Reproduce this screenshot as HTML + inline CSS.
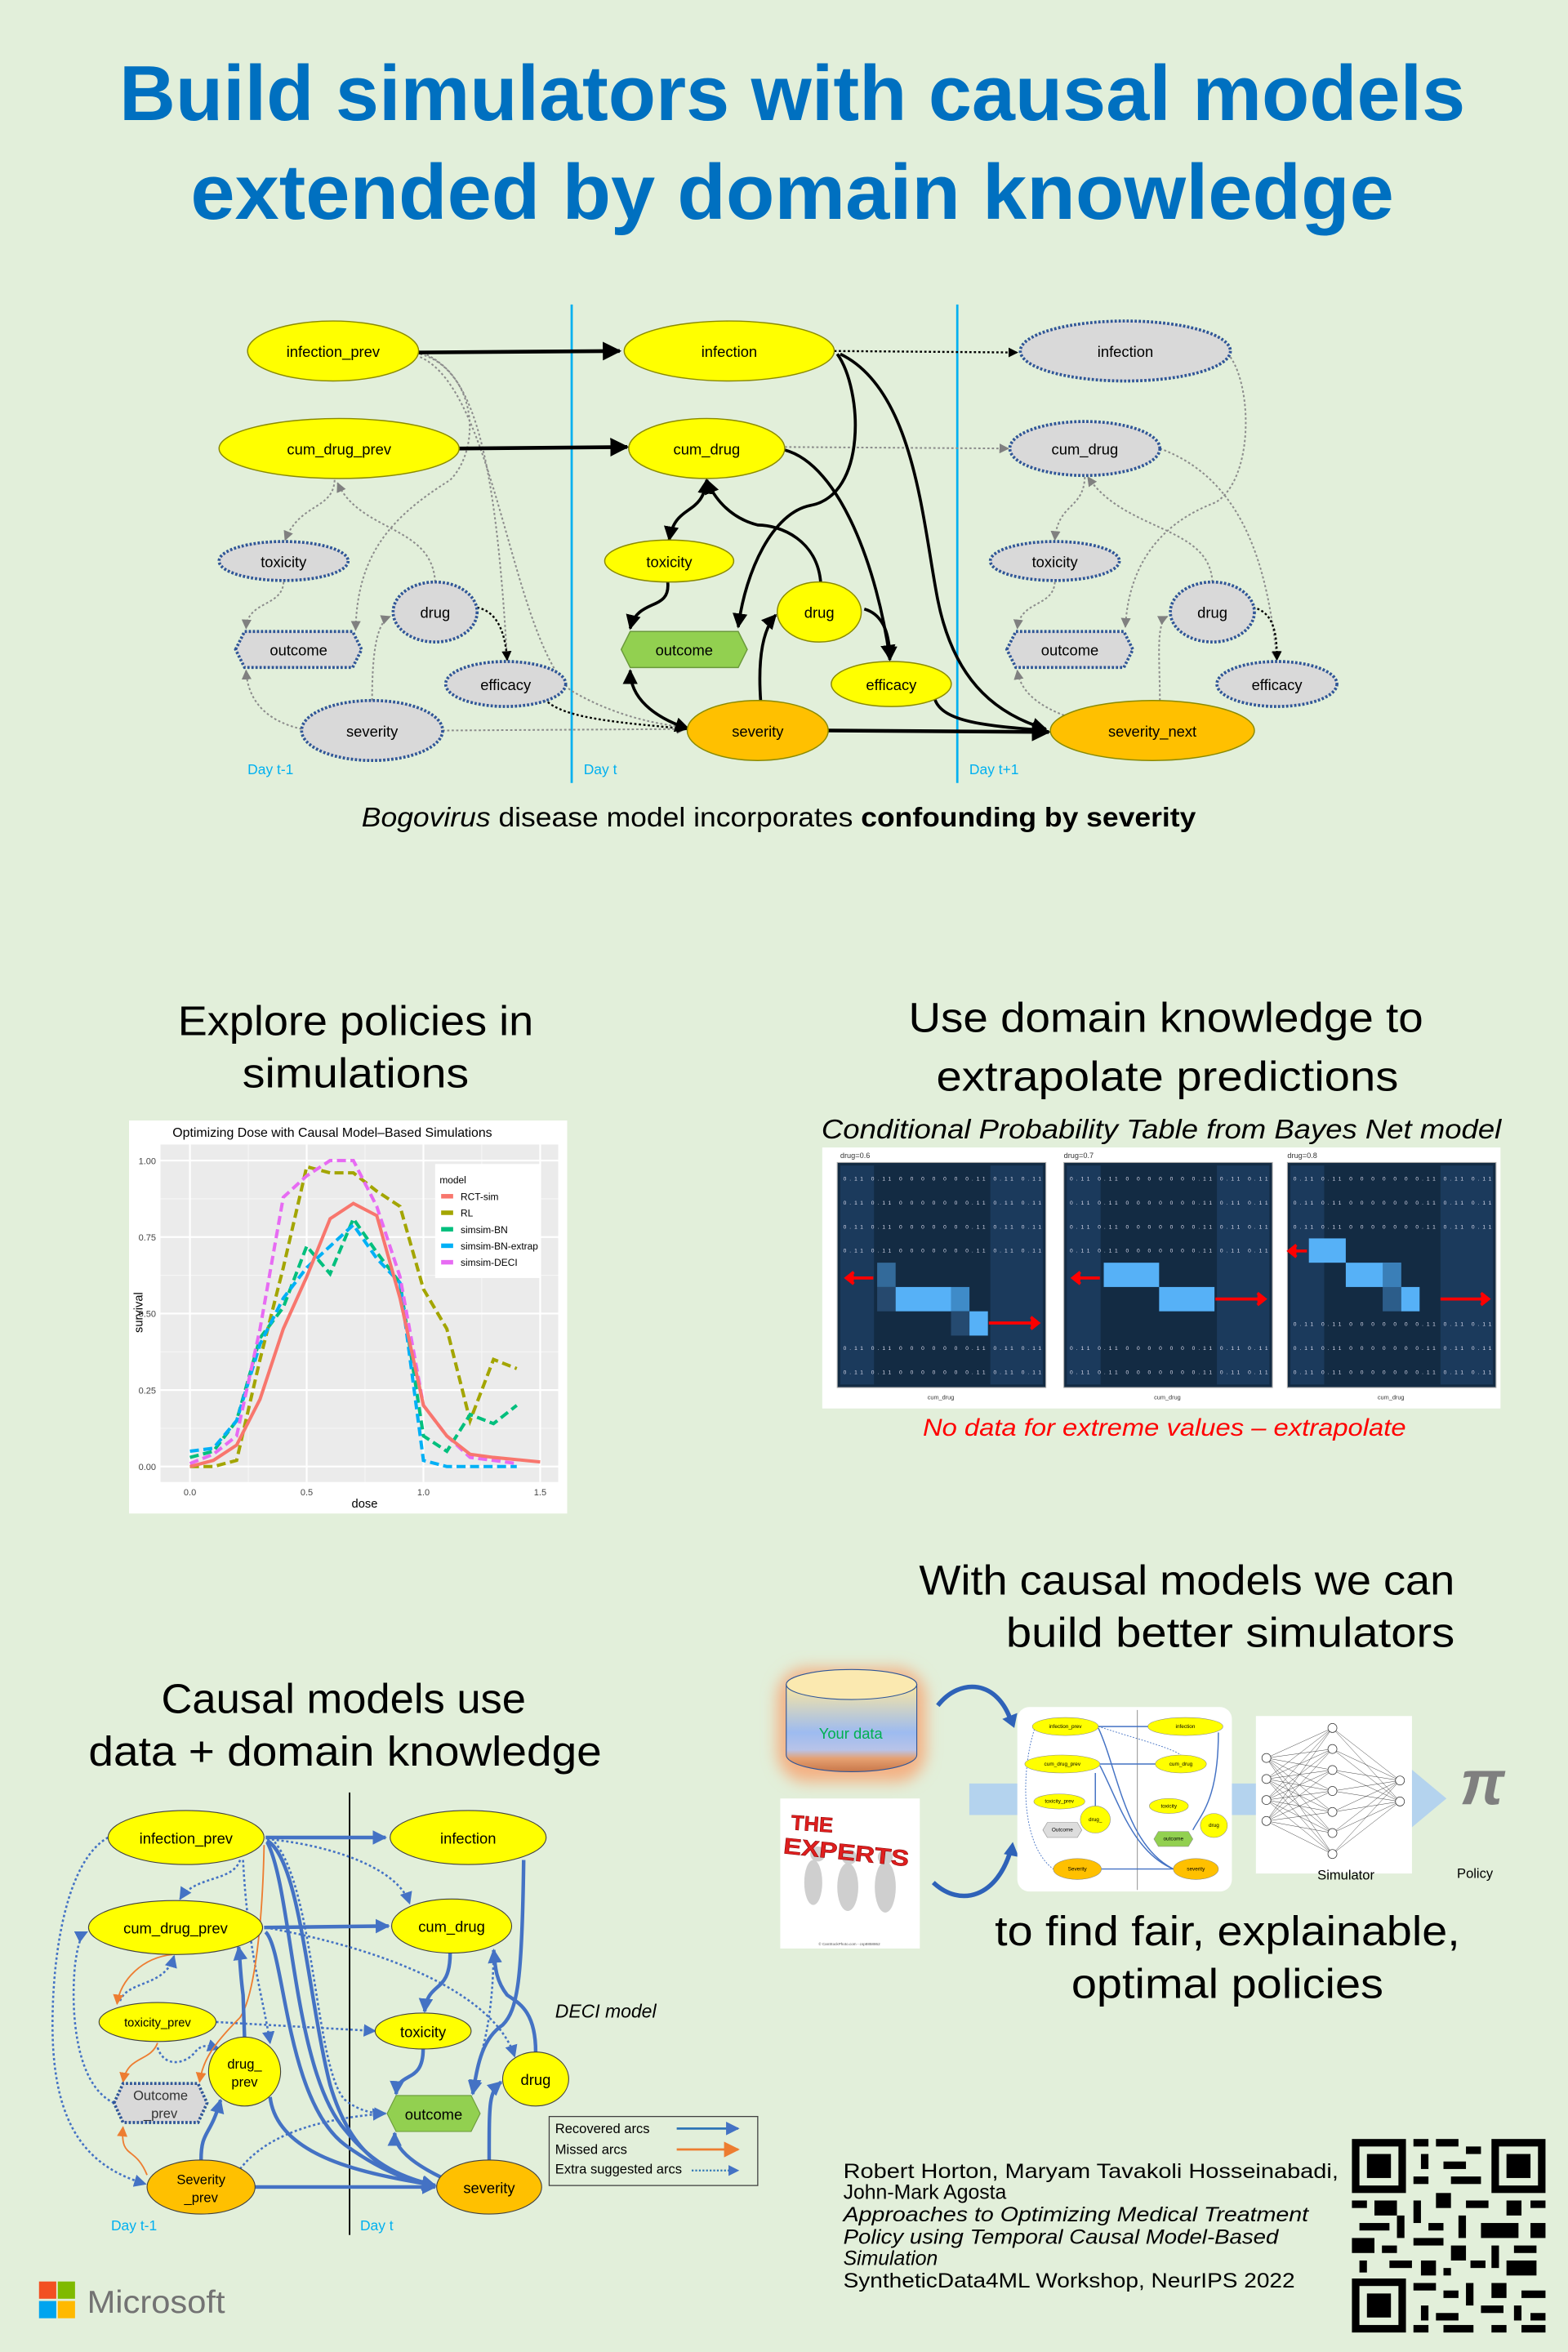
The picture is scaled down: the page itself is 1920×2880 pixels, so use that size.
<!DOCTYPE html>
<html><head><meta charset="utf-8"><style>
html,body{margin:0;padding:0;background:#e2efda;}
svg{display:block}
text{font-family:"Liberation Sans",sans-serif;}
</style></head><body>
<svg width="1920" height="2880" viewBox="0 0 1045 1568" preserveAspectRatio="none" xmlns="http://www.w3.org/2000/svg">
<defs>
<marker id="mk" viewBox="0 0 10 10" refX="9" refY="5" markerWidth="5" markerHeight="5" orient="auto-start-reverse"><path d="M0,0L10,5L0,10z" fill="#000"/></marker>
<marker id="mg" viewBox="0 0 10 10" refX="9" refY="5" markerWidth="6" markerHeight="6" orient="auto"><path d="M0,0L10,5L0,10z" fill="#808080"/></marker>
<marker id="mb" viewBox="0 0 10 10" refX="9" refY="5" markerWidth="4" markerHeight="4" orient="auto-start-reverse"><path d="M0,0L10,5L0,10z" fill="#4472c4"/></marker>
<marker id="mbd" viewBox="0 0 10 10" refX="9" refY="5" markerWidth="6" markerHeight="6" orient="auto"><path d="M0,0L10,5L0,10z" fill="#4472c4"/></marker>
<marker id="mo" viewBox="0 0 10 10" refX="9" refY="5" markerWidth="7" markerHeight="7" orient="auto"><path d="M0,0L10,5L0,10z" fill="#ed7d31"/></marker>
<linearGradient id="cyl" x1="0" y1="0" x2="0" y2="1"><stop offset="0" stop-color="#fbe7a0"/><stop offset="0.55" stop-color="#9dbbf0"/><stop offset="0.75" stop-color="#b8c3e8"/><stop offset="0.85" stop-color="#e6a070"/><stop offset="1" stop-color="#c8774a"/></linearGradient>
<filter id="glow" x="-30%" y="-30%" width="160%" height="160%"><feGaussianBlur stdDeviation="5"/></filter>
</defs>
<rect width="1045" height="1568" fill="#e2efda"/>

<!-- Title -->
<text x="528" y="80" text-anchor="middle" font-size="52" font-weight="bold" fill="#0070c0" textLength="897" lengthAdjust="spacingAndGlyphs">Build simulators with causal models</text>
<text x="528" y="146" text-anchor="middle" font-size="52" font-weight="bold" fill="#0070c0" textLength="802" lengthAdjust="spacingAndGlyphs">extended by domain knowledge</text>

<!-- Diagram 1 -->
<line x1="381" y1="203" x2="381" y2="522" stroke="#00b0f0" stroke-width="1.5"/>
<line x1="638" y1="203" x2="638" y2="522" stroke="#00b0f0" stroke-width="1.5"/>
<g font-size="9.5" fill="#00b0f0"><text x="165" y="516">Day t-1</text><text x="389" y="516">Day t</text><text x="646" y="516">Day t+1</text></g>

<g fill="none" stroke="#8c8c8c" stroke-width="1.1" stroke-dasharray="1.5 1.5" marker-end="url(#mg)">
<path d="M279,234 C320,250 320,300 300,320 C260,345 238,370 237,420"/>
<path d="M223,320 C222,340 200,335 190,360"/>
<path d="M290,388 C288,350 240,355 225,322"/>
<path d="M189,388 C188,405 165,400 164,419"/>
<path d="M201,486 C175,480 165,465 164,447"/>
<path d="M248,467 C248,440 250,415 260,411"/>
<path d="M280,236 C315,245 330,300 338,440"/>
<path d="M280,238 C330,260 340,420 380,460 C410,478 440,483 457,485"/>
<path d="M295,487 L457,486"/>
<path d="M523,298 L672,299"/>
<path d="M820,238 C835,260 835,320 810,335 C770,350 752,380 750,418"/>
<path d="M723,318 C722,340 705,335 703,360"/>
<path d="M808,388 C806,350 750,355 725,318"/>
<path d="M703,388 C702,405 680,400 678,419"/>
<path d="M712,478 C690,470 680,460 678,447"/>
<path d="M773,467 C773,440 770,415 778,411"/>
<path d="M773,299 C830,320 845,380 851,440"/>
</g>
<g fill="none" stroke="#000" stroke-width="1.3" stroke-dasharray="1.5 1.5" marker-end="url(#mk)">
<path d="M556,234 L678,235"/>
<path d="M318,405 C333,408 337,425 338,440"/>
<path d="M363,466 C375,480 420,482 457,486"/>
<path d="M835,405 C850,408 851,425 851,440"/>
</g>
<g fill="none" stroke="#000" stroke-width="2" marker-end="url(#mk)">
<path d="M279,235 L413,234" stroke-width="2.5"/>
<path d="M306,299 L418,298" stroke-width="2.5"/>
<path d="M558,236 C575,260 578,330 540,337 C515,342 497,380 492,418"/>
<path d="M560,236 C610,260 615,350 625,400 C635,450 660,475 697,486"/>
<path d="M523,300 C560,310 585,380 593,439"/>
<path d="M471,320 C468,345 450,335 446,360" marker-start="url(#mk)"/>
<path d="M547,389 C545,360 520,350 505,350 C485,345 475,330 471,320"/>
<path d="M445,388 C447,408 425,398 420,419"/>
<path d="M459,486 C435,478 420,465 420,447" marker-start="url(#mk)"/>
<path d="M507,468 C505,440 508,420 517,410"/>
<path d="M552,487 L699,488" stroke-width="2.5"/>
<path d="M623,466 C628,482 660,484 697,487"/>
<path d="M576,406 C590,410 593,425 593,440"/>
</g>

<g stroke-width="0.8" stroke="#8a8a00">
<ellipse cx="222" cy="234" rx="57" ry="20" fill="#ffff00"/>
<ellipse cx="486" cy="234" rx="70" ry="20" fill="#ffff00"/>
<ellipse cx="226" cy="299" rx="80" ry="20" fill="#ffff00"/>
<ellipse cx="471" cy="299" rx="52" ry="20" fill="#ffff00"/>
<ellipse cx="446" cy="374" rx="43" ry="14" fill="#ffff00"/>
<ellipse cx="546" cy="408" rx="28" ry="20" fill="#ffff00"/>
<ellipse cx="594" cy="456" rx="40" ry="15" fill="#ffff00"/>
<ellipse cx="505" cy="487" rx="47" ry="20" fill="#ffc000"/>
<ellipse cx="768" cy="487" rx="68" ry="20" fill="#ffc000"/>
<polygon points="414,433 420,421 492,421 498,433 492,445 420,445" fill="#92d050" stroke="#6a9a3a"/>
</g>
<g stroke-width="2" stroke="#2f5597" stroke-dasharray="1.5 1.2" fill="#d9d9d9">
<ellipse cx="750" cy="234" rx="70" ry="20"/>
<ellipse cx="723" cy="299" rx="50" ry="18"/>
<ellipse cx="189" cy="374" rx="43" ry="13"/>
<ellipse cx="703" cy="374" rx="43" ry="13"/>
<ellipse cx="290" cy="408" rx="28" ry="20"/>
<ellipse cx="808" cy="408" rx="28" ry="20"/>
<ellipse cx="337" cy="456" rx="40" ry="15"/>
<ellipse cx="851" cy="456" rx="40" ry="15"/>
<ellipse cx="248" cy="487" rx="47" ry="20"/>
<polygon points="157,433 163,421 235,421 241,433 235,445 163,445"/>
<polygon points="671,433 677,421 749,421 755,433 749,445 677,445"/>
</g>
<g font-size="10" text-anchor="middle" fill="#000">
<text x="222" y="238">infection_prev</text><text x="486" y="238">infection</text><text x="750" y="238">infection</text>
<text x="226" y="303">cum_drug_prev</text><text x="471" y="303">cum_drug</text><text x="723" y="303">cum_drug</text>
<text x="189" y="378">toxicity</text><text x="446" y="378">toxicity</text><text x="703" y="378">toxicity</text>
<text x="290" y="412">drug</text><text x="546" y="412">drug</text><text x="808" y="412">drug</text>
<text x="199" y="437">outcome</text><text x="456" y="437">outcome</text><text x="713" y="437">outcome</text>
<text x="337" y="460">efficacy</text><text x="594" y="460">efficacy</text><text x="851" y="460">efficacy</text>
<text x="248" y="491">severity</text><text x="505" y="491">severity</text><text x="768" y="491">severity_next</text>
</g>
<text x="519" y="551" text-anchor="middle" font-size="18" textLength="556" lengthAdjust="spacingAndGlyphs"><tspan font-style="italic">Bogovirus</tspan> disease model incorporates <tspan font-weight="bold">confounding by severity</tspan></text>

<!-- Section headings -->
<g font-size="28" text-anchor="middle" fill="#000">
<text x="237" y="690" textLength="237" lengthAdjust="spacingAndGlyphs">Explore policies in</text>
<text x="237" y="725" textLength="151" lengthAdjust="spacingAndGlyphs">simulations</text>
<text x="777" y="688" textLength="343" lengthAdjust="spacingAndGlyphs">Use domain knowledge to</text>
<text x="778" y="727" textLength="308" lengthAdjust="spacingAndGlyphs">extrapolate predictions</text>
<text x="229" y="1142" textLength="243" lengthAdjust="spacingAndGlyphs">Causal models use</text>
<text x="230" y="1177" textLength="342" lengthAdjust="spacingAndGlyphs">data + domain knowledge</text>
<text x="791" y="1063" textLength="357" lengthAdjust="spacingAndGlyphs">With causal models we can</text>
<text x="820" y="1098" textLength="299" lengthAdjust="spacingAndGlyphs">build better simulators</text>
<text x="818" y="1297" textLength="310" lengthAdjust="spacingAndGlyphs">to find fair, explainable,</text>
<text x="818" y="1332" textLength="208" lengthAdjust="spacingAndGlyphs">optimal policies</text>
</g>
<text x="774" y="759" text-anchor="middle" font-size="18" font-style="italic" textLength="453" lengthAdjust="spacingAndGlyphs">Conditional Probability Table from Bayes Net model</text>
<text x="776" y="957" text-anchor="middle" font-size="16" font-style="italic" fill="#ff0000" textLength="322" lengthAdjust="spacingAndGlyphs">No data for extreme values – extrapolate</text>

<!-- Chart -->
<rect x="86" y="747" width="292" height="262" fill="#fff"/>
<text x="115" y="758" font-size="8.5" textLength="213" lengthAdjust="spacingAndGlyphs">Optimizing Dose with Causal Model–Based Simulations</text>
<rect x="107" y="763" width="265" height="225" fill="#ebebeb"/>
<g stroke="#f6f6f6" stroke-width="0.6">
<line x1="107" x2="372" y1="952.2" y2="952.2"/><line x1="107" x2="372" y1="901.2" y2="901.2"/><line x1="107" x2="372" y1="850.2" y2="850.2"/><line x1="107" x2="372" y1="799.2" y2="799.2"/>
<line y1="763" y2="988" x1="165.5" x2="165.5"/><line y1="763" y2="988" x1="243.3" x2="243.3"/><line y1="763" y2="988" x1="321.1" x2="321.1"/>
</g>
<g stroke="#fff" stroke-width="1.2">
<line x1="107" x2="372" y1="977.7" y2="977.7"/><line x1="107" x2="372" y1="926.7" y2="926.7"/><line x1="107" x2="372" y1="875.7" y2="875.7"/><line x1="107" x2="372" y1="824.7" y2="824.7"/><line x1="107" x2="372" y1="773.7" y2="773.7"/>
<line y1="763" y2="988" x1="126.6" x2="126.6"/><line y1="763" y2="988" x1="204.4" x2="204.4"/><line y1="763" y2="988" x1="282.2" x2="282.2"/><line y1="763" y2="988" x1="360" x2="360"/>
</g>
<g fill="none" stroke-width="2.2">
<polyline stroke="#a3a500" stroke-dasharray="6 3" points="126.6,977.7 142.2,977.7 157.7,973.6 173.3,906.3 188.8,845.1 204.4,777.8 220,781.9 235.5,781.9 251.1,794.1 266.6,804.3 282.2,859.4 297.8,885.9 313.3,947.1 328.9,906.3 344.4,912.4"/>
<polyline stroke="#00bf7d" stroke-dasharray="6 3" points="126.6,971.6 142.2,967.5 157.7,947.1 173.3,892 188.8,871.6 204.4,830.8 220,849.2 235.5,812.5 251.1,834.9 266.6,855.3 282.2,957.3 297.8,967.5 313.3,943 328.9,949.1 344.4,936.9"/>
<polyline stroke="#00b0f6" stroke-dasharray="6 3" points="126.6,967.5 142.2,965.5 157.7,947.1 173.3,896.1 188.8,865.5 204.4,845.1 220,830.8 235.5,816.6 251.1,839 266.6,855.3 282.2,973.6 297.8,977.7 313.3,977.7 328.9,977.7 344.4,977.7"/>
<polyline stroke="#e76bf3" stroke-dasharray="6 3" points="126.6,975.7 142.2,969.5 157.7,957.3 173.3,885.9 188.8,798.2 204.4,783.9 220,773.7 235.5,773.7 251.1,804.3 266.6,851.2 282.2,936.9 297.8,957.3 313.3,971.6 328.9,973.6 344.4,975.7"/>
<polyline stroke="#f8766d" points="126.6,977.7 142.2,973.6 157.7,963.4 173.3,932.8 188.8,885.9 204.4,851.2 220,812.5 235.5,802.3 251.1,810.4 266.6,865.5 282.2,936.9 297.8,957.3 313.3,969.5 328.9,971.6 360,974.6"/>
</g>
<rect x="290" y="776" width="70" height="76" fill="#fff"/>
<g font-size="6.5" fill="#000">
<text x="293" y="789">model</text>
<text x="307" y="800">RCT-sim</text><text x="307" y="811">RL</text><text x="307" y="822">simsim-BN</text><text x="307" y="833">simsim-BN-extrap</text><text x="307" y="844">simsim-DECI</text>
</g>
<g stroke-width="3"><line x1="294" x2="302" y1="797.5" y2="797.5" stroke="#f8766d"/><line x1="294" x2="302" y1="808.5" y2="808.5" stroke="#a3a500"/><line x1="294" x2="302" y1="819.5" y2="819.5" stroke="#00bf7d"/><line x1="294" x2="302" y1="830.5" y2="830.5" stroke="#00b0f6"/><line x1="294" x2="302" y1="841.5" y2="841.5" stroke="#e76bf3"/></g>
<g font-size="6" fill="#444" text-anchor="end"><text x="104" y="980">0.00</text><text x="104" y="929">0.25</text><text x="104" y="878">0.50</text><text x="104" y="827">0.75</text><text x="104" y="776">1.00</text></g>
<g font-size="6" fill="#444" text-anchor="middle"><text x="126.6" y="997">0.0</text><text x="204.4" y="997">0.5</text><text x="282.2" y="997">1.0</text><text x="360" y="997">1.5</text></g>
<text x="243" y="1005" font-size="8" text-anchor="middle">dose</text>
<text transform="translate(95,875) rotate(-90)" font-size="8" text-anchor="middle">survival</text>

<!-- Heatmaps -->
<rect x="548" y="765" width="452" height="174" fill="#fff"/>
<g font-size="5" fill="#333"><text x="560" y="772">drug=0.6</text><text x="709" y="772">drug=0.7</text><text x="858" y="772">drug=0.8</text></g>
<g id="hp1">
<rect x="558" y="775" width="139" height="150" fill="#132b43" stroke="#aaa" stroke-width="0.6"/>
<rect x="560" y="777" width="22.5" height="146" fill="#1b3a5c"/>
<rect x="660" y="777" width="35" height="146" fill="#1b3a5c"/>
</g>
<rect x="709" y="775" width="139" height="150" fill="#132b43" stroke="#aaa" stroke-width="0.6"/>
<rect x="711" y="777" width="22.5" height="146" fill="#1b3a5c"/>
<rect x="811" y="777" width="35" height="146" fill="#1b3a5c"/>
<rect x="858" y="775" width="139" height="150" fill="#132b43" stroke="#aaa" stroke-width="0.6"/>
<rect x="860" y="777" width="22.5" height="146" fill="#1b3a5c"/>
<rect x="960" y="777" width="35" height="146" fill="#1b3a5c"/>
<!-- highlight cells: col w 12.3, row h 16.2 -->
<rect x="584.6" y="841.8" width="12.3" height="16.2" fill="#336a9a"/>
<rect x="584.6" y="858" width="12.3" height="16.2" fill="#26496e"/>
<rect x="596.9" y="858" width="36.9" height="16.2" fill="#56b1f7"/>
<rect x="633.8" y="858" width="12.3" height="16.2" fill="#3f8bc8"/>
<rect x="633.8" y="874.2" width="12.3" height="16.2" fill="#254a70"/>
<rect x="646.1" y="874.2" width="12.3" height="16.2" fill="#56b1f7"/>
<rect x="735.6" y="841.8" width="36.9" height="16.2" fill="#56b1f7"/>
<rect x="772.5" y="858" width="36.9" height="16.2" fill="#56b1f7"/>
<rect x="872.3" y="825.6" width="24.6" height="16.2" fill="#56b1f7"/>
<rect x="896.9" y="841.8" width="36.9" height="16.2" fill="#56b1f7"/>
<rect x="921.5" y="841.8" width="12.3" height="16.2" fill="#3a7fb8"/>
<rect x="933.8" y="858" width="12.3" height="16.2" fill="#56b1f7"/>
<rect x="921.5" y="858" width="12.3" height="16.2" fill="#2c5d8a"/>
<g font-size="3.6" fill="#dde">
<text x="562" y="787" textLength="132" lengthAdjust="spacing">0.11 0.11 0 0 0 0 0 0 0.11 0.11 0.11</text>
<text x="713" y="787" textLength="132" lengthAdjust="spacing">0.11 0.11 0 0 0 0 0 0 0.11 0.11 0.11</text>
<text x="862" y="787" textLength="132" lengthAdjust="spacing">0.11 0.11 0 0 0 0 0 0 0.11 0.11 0.11</text>
</g>
<g font-size="3.6" fill="#dde">
<text x="562" y="803" textLength="132">0.11 0.11 0 0 0 0 0 0 0.11 0.11 0.11</text><text x="562" y="819" textLength="132">0.11 0.11 0 0 0 0 0 0 0.11 0.11 0.11</text><text x="562" y="835" textLength="132">0.11 0.11 0 0 0 0 0 0 0.11 0.11 0.11</text><text x="562" y="900" textLength="132">0.11 0.11 0 0 0 0 0 0 0.11 0.11 0.11</text><text x="562" y="916" textLength="132">0.11 0.11 0 0 0 0 0 0 0.11 0.11 0.11</text>
<text x="713" y="803" textLength="132">0.11 0.11 0 0 0 0 0 0 0.11 0.11 0.11</text><text x="713" y="819" textLength="132">0.11 0.11 0 0 0 0 0 0 0.11 0.11 0.11</text><text x="713" y="835" textLength="132">0.11 0.11 0 0 0 0 0 0 0.11 0.11 0.11</text><text x="713" y="900" textLength="132">0.11 0.11 0 0 0 0 0 0 0.11 0.11 0.11</text><text x="713" y="916" textLength="132">0.11 0.11 0 0 0 0 0 0 0.11 0.11 0.11</text>
<text x="862" y="803" textLength="132">0.11 0.11 0 0 0 0 0 0 0.11 0.11 0.11</text><text x="862" y="819" textLength="132">0.11 0.11 0 0 0 0 0 0 0.11 0.11 0.11</text><text x="862" y="884" textLength="132">0.11 0.11 0 0 0 0 0 0 0.11 0.11 0.11</text><text x="862" y="900" textLength="132">0.11 0.11 0 0 0 0 0 0 0.11 0.11 0.11</text><text x="862" y="916" textLength="132">0.11 0.11 0 0 0 0 0 0 0.11 0.11 0.11</text>
</g>
<g stroke="#ff0000" stroke-width="2" fill="none">
<line x1="582" y1="852" x2="566" y2="852"/><path d="M569,848 L564,852 L569,856" fill="#f00"/>
<line x1="659" y1="882" x2="690" y2="882"/><path d="M687,878 L692,882 L687,886" fill="#f00"/>
<line x1="733" y1="852" x2="717" y2="852"/><path d="M720,848 L715,852 L720,856" fill="#f00"/>
<line x1="810" y1="866" x2="841" y2="866"/><path d="M838,862 L843,866 L838,870" fill="#f00"/>
<line x1="871" y1="834" x2="861" y2="834"/><path d="M864,830 L859,834 L864,838" fill="#f00"/>
<line x1="960" y1="866" x2="990" y2="866"/><path d="M987,862 L992,866 L987,870" fill="#f00"/>
</g>
<g font-size="4" fill="#333" text-anchor="middle"><text x="627" y="933">cum_drug</text><text x="778" y="933">cum_drug</text><text x="927" y="933">cum_drug</text></g>

<!-- DECI diagram -->
<line x1="233" y1="1195" x2="233" y2="1490" stroke="#000" stroke-width="1"/>
<g font-size="9.5" fill="#00b0f0"><text x="74" y="1487">Day t-1</text><text x="240" y="1487">Day t</text></g>
<g fill="none" stroke="#4472c4" stroke-width="1.4" stroke-dasharray="1.6 1.6" marker-end="url(#mbd)">
<path d="M72,1225 C45,1240 35,1300 35,1350 C35,1420 60,1445 97,1456"/>
<path d="M76,1402 C50,1390 47,1340 50,1310 C52,1295 54,1290 58,1288"/>
<path d="M160,1240 C155,1255 130,1250 120,1266"/>
<path d="M80,1334 C85,1320 110,1325 116,1304"/>
<path d="M144,1348 L250,1354"/>
<path d="M105,1365 C110,1380 125,1375 130,1368 C135,1362 140,1364 146,1366"/>
<path d="M178,1226 C220,1230 265,1245 273,1269"/>
<path d="M162,1240 C165,1300 175,1330 180,1362"/>
<path d="M183,1228 C210,1260 210,1380 230,1400 C240,1408 250,1409 257,1409"/>
<path d="M177,1285 C260,1300 330,1330 343,1371"/>
<path d="M329,1302 C328,1360 318,1370 316,1394"/>
<path d="M160,1446 C180,1420 220,1412 256,1409"/>
</g>
<g fill="none" stroke="#ed7d31" stroke-width="1" marker-end="url(#mo)">
<path d="M115,1303 C95,1305 80,1320 78,1336"/>
<path d="M176,1230 C175,1280 170,1330 160,1345 C140,1365 135,1375 133,1388"/>
<path d="M105,1362 C100,1375 85,1370 82,1388"/>
<path d="M98,1450 C90,1430 80,1440 82,1418"/>
</g>
<g fill="none" stroke="#4472c4" stroke-width="2.4" marker-end="url(#mb)">
<path d="M177,1225 L257,1225"/>
<path d="M176,1285 L259,1284"/>
<path d="M178,1227 C200,1240 205,1330 220,1390 C235,1440 260,1450 290,1457"/>
<path d="M178,1228 C195,1260 195,1380 230,1420 C250,1445 270,1452 290,1457"/>
<path d="M177,1288 C190,1300 190,1400 230,1430 C255,1448 275,1455 290,1457"/>
<path d="M180,1398 C185,1440 250,1450 290,1457"/>
<path d="M170,1458 L290,1458"/>
<path d="M163,1359 L162,1330 C160,1315 160,1305 159,1298"/>
<path d="M134,1440 C134,1420 140,1425 147,1400"/>
<path d="M349,1240 C348,1320 345,1340 335,1350 C320,1360 318,1380 315,1396"/>
<path d="M300,1302 C300,1330 285,1320 283,1341"/>
<path d="M282,1366 C282,1390 265,1380 264,1396"/>
<path d="M357,1368 C357,1340 345,1335 338,1330 C330,1320 330,1310 329,1300"/>
<path d="M326,1440 C326,1400 326,1395 334,1388"/>
<path d="M295,1452 C270,1440 263,1430 263,1422"/>
</g>
<g stroke="#404040" stroke-width="0.6">
<ellipse cx="124" cy="1225" rx="52" ry="18" fill="#ffff00"/>
<ellipse cx="312" cy="1225" rx="52" ry="18" fill="#ffff00"/>
<ellipse cx="117" cy="1285" rx="58" ry="18" fill="#ffff00"/>
<ellipse cx="301" cy="1284" rx="40" ry="18" fill="#ffff00"/>
<ellipse cx="105" cy="1348" rx="39" ry="13" fill="#ffff00"/>
<ellipse cx="282" cy="1354" rx="32" ry="12" fill="#ffff00"/>
<ellipse cx="163" cy="1381" rx="24" ry="23" fill="#ffff00"/>
<ellipse cx="357" cy="1386" rx="22" ry="18" fill="#ffff00"/>
<ellipse cx="134" cy="1458" rx="36" ry="18" fill="#ffc000"/>
<ellipse cx="326" cy="1458" rx="35" ry="18" fill="#ffc000"/>
<polygon points="258,1409 264,1397 314,1397 320,1409 314,1421 264,1421" fill="#92d050" stroke="#6a9a3a"/>
</g>
<polygon points="76,1402 82,1389 132,1389 138,1402 132,1415 82,1415" fill="#d9d9d9" stroke="#2f5597" stroke-width="2" stroke-dasharray="1.5 1.2"/>
<g font-size="10" text-anchor="middle">
<text x="124" y="1229">infection_prev</text><text x="312" y="1229">infection</text>
<text x="117" y="1289">cum_drug_prev</text><text x="301" y="1288">cum_drug</text>
<text x="105" y="1351" font-size="8">toxicity_prev</text><text x="282" y="1358">toxicity</text>
<text x="163" y="1379" font-size="9">drug_</text><text x="163" y="1391" font-size="9">prev</text>
<text x="357" y="1390">drug</text>
<text x="107" y="1400" font-size="9" fill="#333">Outcome</text><text x="107" y="1412" font-size="9" fill="#333">_prev</text>
<text x="289" y="1413">outcome</text>
<text x="134" y="1456" font-size="9">Severity</text><text x="134" y="1468" font-size="9">_prev</text>
<text x="326" y="1462">severity</text>
</g>
<text x="370" y="1345" font-size="12.5" font-style="italic">DECI model</text>
<rect x="366" y="1411" width="139" height="46" fill="none" stroke="#404040" stroke-width="0.7"/>
<g font-size="9"><text x="370" y="1422">Recovered arcs</text><text x="370" y="1436">Missed arcs</text><text x="370" y="1449">Extra suggested arcs</text></g>
<line x1="451" y1="1419" x2="492" y2="1419" stroke="#2e75b6" stroke-width="1.5" marker-end="url(#mbd)"/>
<line x1="451" y1="1433" x2="492" y2="1433" stroke="#ed7d31" stroke-width="1.5" marker-end="url(#mo)"/>
<line x1="461" y1="1447" x2="492" y2="1447" stroke="#2e75b6" stroke-width="1.2" stroke-dasharray="1.2 1.2" marker-end="url(#mbd)"/>

<!-- Microsoft -->
<rect x="26" y="1521" width="11.5" height="11.5" fill="#f25022"/><rect x="38.5" y="1521" width="11.5" height="11.5" fill="#7fba00"/>
<rect x="26" y="1534" width="11.5" height="11.5" fill="#00a4ef"/><rect x="38.5" y="1534" width="11.5" height="11.5" fill="#ffb900"/>
<text x="58" y="1542" font-size="21" fill="#737373" textLength="92" lengthAdjust="spacingAndGlyphs">Microsoft</text>

<!-- Section 4 graphics -->
<rect x="646" y="1189" width="300" height="21" fill="#b4d3ee"/>
<path d="M940,1179 L964,1199 L940,1219 Z" fill="#b4d3ee"/>
<rect x="518" y="1112" width="99" height="76" rx="20" fill="#f4b183" filter="url(#glow)"/>
<path d="M524,1123 L524,1170 A43,11 0 0 0 611,1170 L611,1123 Z" fill="url(#cyl)" stroke="#2f5597" stroke-width="0.6"/>
<ellipse cx="567.5" cy="1123" rx="43.5" ry="10" fill="#fbe9b0" stroke="#2f5597" stroke-width="0.6"/>
<text x="567" y="1159" font-size="10" fill="#00b050" text-anchor="middle">Your data</text>
<rect x="520" y="1199" width="93" height="100" fill="#fff"/>
<g fill="#cfcfcf"><ellipse cx="542" cy="1255" rx="6" ry="15"/><ellipse cx="565" cy="1258" rx="7" ry="16"/><ellipse cx="590" cy="1258" rx="7" ry="17"/><circle cx="545" cy="1236" r="5"/><circle cx="566" cy="1238" r="5"/><circle cx="590" cy="1238" r="5"/></g>
<text x="527" y="1222" font-size="14" font-weight="bold" fill="#e01f1f" stroke="#8a0000" stroke-width="0.3" transform="rotate(4 560 1220)">THE</text>
<text x="522" y="1240" font-size="15" font-weight="bold" fill="#e01f1f" stroke="#8a0000" stroke-width="0.3" transform="rotate(6 565 1235)" textLength="84" lengthAdjust="spacingAndGlyphs">EXPERTS</text>
<text x="566" y="1297" font-size="2.5" fill="#555" text-anchor="middle">© CanStockPhoto.com - csp8858862</text>
<path d="M625,1137 C640,1118 665,1120 674,1148" fill="none" stroke="#2e62b8" stroke-width="3"/>
<path d="M668,1146 L676,1152 L678,1142 Z" fill="#2e62b8"/>
<path d="M622,1255 C640,1272 665,1265 674,1232" fill="none" stroke="#2e62b8" stroke-width="3"/>
<path d="M669,1236 L675,1228 L679,1238 Z" fill="#2e62b8"/>
<!-- mini diagram -->
<rect x="678" y="1138" width="143" height="123" rx="8" fill="#fff"/>
<line x1="758" y1="1140" x2="758" y2="1260" stroke="#888" stroke-width="0.5"/>
<g fill="none" stroke="#4472c4" stroke-width="0.8">
<path d="M732,1151 L765,1151"/><path d="M733,1176 L770,1176"/><path d="M732,1152 C745,1180 750,1230 782,1246"/><path d="M733,1177 C745,1200 755,1235 782,1246"/><path d="M734,1246 L782,1246"/><path d="M812,1155 C812,1200 800,1210 795,1220"/><path d="M730,1205 L730,1182"/>
</g>
<g fill="none" stroke="#4472c4" stroke-width="0.5" stroke-dasharray="1 1"><path d="M690,1151 C680,1180 680,1230 702,1246"/><path d="M732,1151 C760,1160 780,1165 787,1170"/></g>
<g stroke="#888" stroke-width="0.3">
<ellipse cx="710" cy="1151" rx="22" ry="6" fill="#ffff00"/><ellipse cx="790" cy="1151" rx="25" ry="6" fill="#ffff00"/>
<ellipse cx="708" cy="1176" rx="25" ry="6" fill="#ffff00"/><ellipse cx="787" cy="1176" rx="17" ry="6" fill="#ffff00"/>
<ellipse cx="706" cy="1201" rx="17" ry="5" fill="#ffff00"/><ellipse cx="779" cy="1204" rx="13" ry="5" fill="#ffff00"/>
<ellipse cx="730" cy="1213" rx="10" ry="9" fill="#ffff00"/><ellipse cx="809" cy="1217" rx="9" ry="8" fill="#ffff00"/>
<polygon points="695,1220 698,1215 718,1215 721,1220 718,1225 698,1225" fill="#ddd"/>
<polygon points="769,1226 772,1221 792,1221 795,1226 792,1231 772,1231" fill="#92d050"/>
<ellipse cx="718" cy="1246" rx="16" ry="7" fill="#ffc000"/><ellipse cx="797" cy="1246" rx="15" ry="7" fill="#ffc000"/>
</g>
<g font-size="3.5" text-anchor="middle"><text x="710" y="1152">infection_prev</text><text x="790" y="1152">infection</text><text x="708" y="1177">cum_drug_prev</text><text x="787" y="1177">cum_drug</text><text x="706" y="1202">toxicity_prev</text><text x="779" y="1205">toxicity</text><text x="730" y="1214">drug_</text><text x="809" y="1218">drug</text><text x="708" y="1221">Outcome</text><text x="782" y="1227">outcome</text><text x="718" y="1247">Severity</text><text x="797" y="1247">severity</text></g>
<!-- NN -->
<rect x="837" y="1144" width="104" height="105" fill="#fff"/>
<g stroke="#333" stroke-width="0.25">
<path d="M844,1172 L888,1152 M844,1172 L888,1166 M844,1172 L888,1180 M844,1172 L888,1194 M844,1172 L888,1208 M844,1172 L888,1222 M844,1172 L888,1236
M844,1186 L888,1152 M844,1186 L888,1166 M844,1186 L888,1180 M844,1186 L888,1194 M844,1186 L888,1208 M844,1186 L888,1222 M844,1186 L888,1236
M844,1200 L888,1152 M844,1200 L888,1166 M844,1200 L888,1180 M844,1200 L888,1194 M844,1200 L888,1208 M844,1200 L888,1222 M844,1200 L888,1236
M844,1214 L888,1152 M844,1214 L888,1166 M844,1214 L888,1180 M844,1214 L888,1194 M844,1214 L888,1208 M844,1214 L888,1222 M844,1214 L888,1236
M888,1152 L933,1187 M888,1166 L933,1187 M888,1180 L933,1187 M888,1194 L933,1187 M888,1208 L933,1187 M888,1222 L933,1187 M888,1236 L933,1187
M888,1152 L933,1201 M888,1166 L933,1201 M888,1180 L933,1201 M888,1194 L933,1201 M888,1208 L933,1201 M888,1222 L933,1201 M888,1236 L933,1201"/>
</g>
<g fill="#fff" stroke="#333" stroke-width="0.4">
<circle cx="844" cy="1172" r="3"/><circle cx="844" cy="1186" r="3"/><circle cx="844" cy="1200" r="3"/><circle cx="844" cy="1214" r="3"/>
<circle cx="888" cy="1152" r="3"/><circle cx="888" cy="1166" r="3"/><circle cx="888" cy="1180" r="3"/><circle cx="888" cy="1194" r="3"/><circle cx="888" cy="1208" r="3"/><circle cx="888" cy="1222" r="3"/><circle cx="888" cy="1236" r="3"/>
<circle cx="933" cy="1187" r="3"/><circle cx="933" cy="1201" r="3"/>
</g>
<text x="897" y="1253" font-size="9" text-anchor="middle">Simulator</text>
<text x="988" y="1203" font-size="42" font-style="italic" font-family="Liberation Serif,serif" fill="#7f7f7f" font-weight="bold" text-anchor="middle">π</text>
<text x="983" y="1252" font-size="9" text-anchor="middle">Policy</text>

<!-- Authors -->
<g font-size="13.5" fill="#000">
<text x="562" y="1452" textLength="330" lengthAdjust="spacingAndGlyphs">Robert Horton, Maryam Tavakoli Hosseinabadi,</text>
<text x="562" y="1466">John-Mark Agosta</text>
<text x="562" y="1481" font-style="italic" textLength="310" lengthAdjust="spacingAndGlyphs">Approaches to Optimizing Medical Treatment</text>
<text x="562" y="1496" font-style="italic" textLength="290" lengthAdjust="spacingAndGlyphs">Policy using Temporal Causal Model-Based</text>
<text x="562" y="1510" font-style="italic">Simulation</text>
<text x="562" y="1525" textLength="301" lengthAdjust="spacingAndGlyphs">SyntheticData4ML Workshop, NeurIPS 2022</text>
</g>

<!-- QR -->
<g fill="#000">
<rect x="901" y="1426" width="36" height="36"/><rect x="906" y="1431" width="26" height="26" fill="#e2efda"/><rect x="911" y="1436" width="16" height="16"/>
<rect x="994" y="1426" width="36" height="36"/><rect x="999" y="1431" width="26" height="26" fill="#e2efda"/><rect x="1004" y="1436" width="16" height="16"/>
<rect x="901" y="1519" width="36" height="36"/><rect x="906" y="1524" width="26" height="26" fill="#e2efda"/><rect x="911" y="1529" width="16" height="16"/>
<rect x="942" y="1426" width="10" height="5"/><rect x="957" y="1426" width="15" height="5"/><rect x="977" y="1431" width="10" height="5"/><rect x="947" y="1436" width="5" height="10"/><rect x="962" y="1441" width="15" height="5"/><rect x="942" y="1451" width="10" height="5"/><rect x="967" y="1451" width="20" height="5"/>
<rect x="901" y="1467" width="10" height="5"/><rect x="916" y="1467" width="15" height="10"/><rect x="942" y="1467" width="5" height="15"/><rect x="957" y="1462" width="10" height="10"/><rect x="977" y="1467" width="15" height="5"/><rect x="1004" y="1467" width="10" height="10"/><rect x="1020" y="1467" width="10" height="5"/>
<rect x="906" y="1482" width="20" height="5"/><rect x="931" y="1477" width="5" height="15"/><rect x="952" y="1482" width="10" height="5"/><rect x="972" y="1477" width="5" height="15"/><rect x="987" y="1482" width="25" height="10"/><rect x="1020" y="1482" width="10" height="10"/>
<rect x="901" y="1492" width="15" height="10"/><rect x="921" y="1497" width="10" height="5"/><rect x="942" y="1492" width="20" height="5"/><rect x="967" y="1497" width="10" height="10"/><rect x="994" y="1497" width="5" height="15"/><rect x="1009" y="1497" width="15" height="5"/>
<rect x="906" y="1507" width="5" height="8"/><rect x="926" y="1507" width="15" height="5"/><rect x="947" y="1507" width="10" height="10"/><rect x="962" y="1512" width="5" height="5"/><rect x="980" y="1507" width="10" height="5"/><rect x="1004" y="1507" width="20" height="10"/>
<rect x="942" y="1522" width="15" height="5"/><rect x="962" y="1527" width="10" height="5"/><rect x="977" y="1522" width="5" height="15"/><rect x="994" y="1522" width="10" height="10"/><rect x="1014" y="1527" width="16" height="5"/>
<rect x="947" y="1537" width="5" height="10"/><rect x="957" y="1542" width="15" height="5"/><rect x="987" y="1537" width="15" height="5"/><rect x="1009" y="1537" width="5" height="10"/><rect x="1020" y="1542" width="10" height="5"/>
<rect x="942" y="1550" width="10" height="5"/><rect x="962" y="1550" width="20" height="5"/><rect x="994" y="1550" width="10" height="5"/><rect x="1014" y="1550" width="16" height="5"/>
</g>
</svg>
</body></html>
